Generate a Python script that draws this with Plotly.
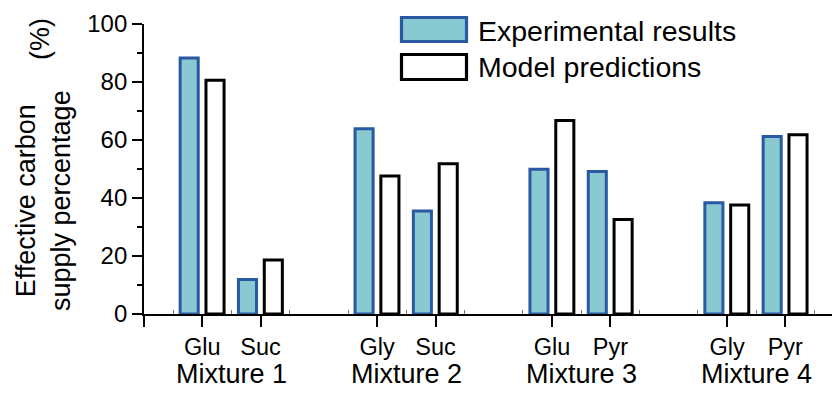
import plotly.graph_objects as go
import numpy as np

# ---- data ----
mixtures = ["Mixture 1", "Mixture 2", "Mixture 3", "Mixture 4"]
substrates = [["Glu", "Suc"], ["Gly", "Suc"], ["Glu", "Pyr"], ["Gly", "Pyr"]]
experimental = [88.3, 11.9, 63.9, 35.5, 49.9, 49.1, 38.4, 61.2]
model = [80.6, 18.6, 47.6, 51.8, 66.7, 32.6, 37.6, 61.8]
y_ticks = [0, 20, 40, 60, 80, 100]

# ---- layout geometry ----
W, H = 832, 396
ML, MR, MT, MB = 144, 0, 24, 82
PW, PH = W - ML - MR, H - MT - MB
UNIT = 58.3  # px per x unit
XMAX = PW / UNIT

def px(x):
    return (x - ML) / PW

def py(y):
    return (H - MB - y) / PH

# x positions: two substrates per mixture, one empty slot between mixtures
xpos = []
labels = []
for g, subs in enumerate(substrates):
    for i, s in enumerate(subs):
        xpos.append(g * 3 + i + 1)
        labels.append(s)
group_centers = [g * 3 + 1.5 for g in range(len(mixtures))]

FONT = "Liberation Sans, Arial, Helvetica, sans-serif"
BAR_W = 0.31
EXP_FILL = "#89cad2"
EXP_LINE = "#2a58a2"

fig = go.Figure()
fig.add_trace(go.Bar(
    x=xpos, y=experimental, width=BAR_W, offset=-0.38,
    marker=dict(color=EXP_FILL, line=dict(color=EXP_LINE, width=3)),
    name="Experimental results", showlegend=False,
))
fig.add_trace(go.Bar(
    x=xpos, y=model, width=BAR_W, offset=0.063,
    marker=dict(color="white", line=dict(color="black", width=3)),
    name="Model predictions", showlegend=False,
))

fig.update_layout(
    width=W, height=H,
    margin=dict(l=ML, r=MR, t=MT, b=MB, pad=0),
    plot_bgcolor="white", paper_bgcolor="white",
    barmode="overlay",
    font=dict(family=FONT, color="black", size=24),
    xaxis=dict(
        range=[0, XMAX], showgrid=False, zeroline=False,
        showline=True, linecolor="black", linewidth=1.8,
        ticks="outside", ticklen=11, tickwidth=1.8, tickcolor="black",
        tickmode="array", tickvals=[0] + xpos, ticktext=[""] + labels,
        tickfont=dict(size=23.5),
        minor=dict(ticks="inside", ticklen=4, tickwidth=1, tickcolor="#777",
                   tickmode="array", tickvals=list(np.arange(0.5, XMAX, 1.0))),
    ),
    yaxis=dict(
        range=[0, 100], showgrid=False, zeroline=False,
        showline=True, linecolor="black", linewidth=1.8,
        ticks="outside", ticklen=10, tickwidth=1.8, tickcolor="black",
        tickmode="array", tickvals=y_ticks, ticktext=[str(v) for v in y_ticks],
        tickfont=dict(size=24),
        minor=dict(ticks="outside", ticklen=5, tickwidth=1.8, tickcolor="black",
                   tickmode="array", tickvals=[10, 30, 50, 70, 90]),
    ),
)

annotations = []
# mixture labels
for m, c in zip(mixtures, group_centers):
    annotations.append(dict(x=c, y=py(374), xref="x", yref="paper", text=m,
                            showarrow=False, xanchor="center", yanchor="middle",
                            font=dict(size=27)))
# y-axis title
annotations.append(dict(x=px(43), y=py(200), xref="paper", yref="paper",
                        text="Effective carbon<br>supply percentage", textangle=-90,
                        showarrow=False, xanchor="center", yanchor="middle",
                        font=dict(size=27)))
annotations.append(dict(x=px(40), y=py(39), xref="paper", yref="paper",
                        text="(%)", textangle=-90,
                        showarrow=False, xanchor="center", yanchor="middle",
                        font=dict(size=27)))
# legend texts
annotations.append(dict(x=px(476), y=py(31), xref="paper", yref="paper",
                        text="Experimental results", showarrow=False,
                        xanchor="left", yanchor="middle", font=dict(size=28.5)))
annotations.append(dict(x=px(476), y=py(67), xref="paper", yref="paper",
                        text="Model predictions", showarrow=False,
                        xanchor="left", yanchor="middle", font=dict(size=28.5)))
fig.update_layout(annotations=annotations)

# legend swatches
fig.add_shape(type="rect", xref="paper", yref="paper",
              x0=px(401.5), x1=px(466.5), y0=py(17.5), y1=py(41.5),
              fillcolor=EXP_FILL, line=dict(color=EXP_LINE, width=3.2))
fig.add_shape(type="rect", xref="paper", yref="paper",
              x0=px(401.5), x1=px(466.5), y0=py(54.5), y1=py(79.5),
              fillcolor="white", line=dict(color="black", width=3.2))

fig.write_html("out.html", config={"displayModeBar": False},
               post_script="document.body.style.margin='0';")
